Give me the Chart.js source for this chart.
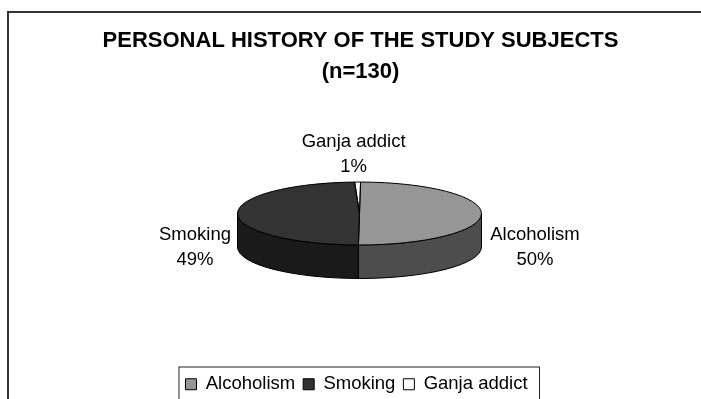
<!DOCTYPE html>
<html>
<head>
<meta charset="utf-8">
<style>
  html, body { margin: 0; padding: 0; background: #fff; overflow: hidden; }
  canvas { display: block; }
</style>
<script src="https://cdn.jsdelivr.net/npm/chart.js@4"></script>
</head>
<body>
<canvas id="pie-chart" width="701" height="399"></canvas>
<script>
const categories = ['Alcoholism', 'Smoking', 'Ganja addict'];
const subjects = [65, 64, 1];
const titleLines = ['PERSONAL HISTORY OF THE STUDY SUBJECTS', '(n=130)'];

const topColors = ['#969696', '#333333', '#ffffff'];
const sideColors = ['#4d4d4d', '#1a1a1a', '#ffffff'];

const fontName = '"Liberation Sans", Arial, sans-serif';
const labelSize = 18.5;
const squash = 0.258;
const depth = 33.5;
const pieCenter = { x: 359.5, y: 213.5 };
// label offsets from the rim of each slice
const labelOffsets = [[53.5, 21], [-42.5, 20.5], [-4, -40]];

const pie3d = {
    id: 'pie3d',
    afterLayout(chart) {
        // legend sits a little left of the title centre
        chart.legend.left -= 4;
        chart.legend.right -= 4;
        chart.legend.adjustHitBoxes();
    },
    beforeDatasetsDraw(chart) {
        const ctx = chart.ctx;
        const arcs = chart.getDatasetMeta(0).data;
        const r = arcs[0].outerRadius;
        const { x, y } = pieCenter;

        // side wall, only the part of each slice that faces the viewer
        arcs.forEach((arc, i) => {
            const from = Math.max(arc.startAngle, 0);
            const to = Math.min(arc.endAngle, Math.PI);
            if (from >= to) return;
            ctx.beginPath();
            ctx.ellipse(x, y, r, r * squash, 0, from, to);
            ctx.ellipse(x, y + depth, r, r * squash, 0, to, from, true);
            ctx.closePath();
            ctx.fillStyle = sideColors[i];
            ctx.fill();
            ctx.strokeStyle = '#000';
            ctx.lineWidth = 1;
            ctx.stroke();
        });

        ctx.save();
        ctx.translate(x, y);
        ctx.scale(1, squash);
        ctx.translate(-arcs[0].x, -arcs[0].y);
    },
    afterDatasetsDraw(chart) {
        const ctx = chart.ctx;
        ctx.restore();

        const arcs = chart.getDatasetMeta(0).data;
        const { x, y } = pieCenter;
        const total = subjects.reduce((a, b) => a + b, 0);

        arcs.forEach((arc, i) => {
            const r = arc.outerRadius;
            ctx.beginPath();
            ctx.moveTo(x, y);
            ctx.ellipse(x, y, r, r * squash, 0, arc.startAngle, arc.endAngle);
            ctx.closePath();
            ctx.strokeStyle = '#000';
            ctx.lineWidth = 1;
            ctx.stroke();

            const mid = (arc.startAngle + arc.endAngle) / 2;
            const lx = x + r * Math.cos(mid) + labelOffsets[i][0];
            const ly = y + r * squash * Math.sin(mid) + labelOffsets[i][1];
            ctx.fillStyle = '#000';
            ctx.font = labelSize + 'px ' + fontName;
            ctx.textAlign = 'center';
            ctx.textBaseline = 'middle';
            ctx.fillText(categories[i], lx, ly);
            ctx.fillText(Math.round(subjects[i] / total * 100) + '%', lx, ly + 25);
        });
    },
    afterDraw(chart) {
        const ctx = chart.ctx;
        const boxes = chart.legend.legendHitBoxes;
        const last = boxes[boxes.length - 1];
        const left = boxes[0].left - 6.5;
        const right = last.left + last.width + 12;

        ctx.save();
        ctx.strokeStyle = '#222';
        ctx.lineWidth = 1;
        ctx.strokeRect(left, 367, right - left, 50);
        ctx.strokeStyle = '#333';
        ctx.lineWidth = 2;
        ctx.strokeRect(8, 12, 720, 420);
        ctx.restore();
    }
};

new Chart(document.querySelector('#pie-chart').getContext('2d'), {
    type: 'pie',
    data: {
        labels: categories,
        datasets: [{
            data: subjects,
            backgroundColor: topColors,
            borderWidth: 0,
            radius: 122
        }]
    },
    options: {
        responsive: false,
        animation: false,
        rotation: 0.5,
        layout: { padding: { left: 20, bottom: -4.5 } },
        plugins: {
            tooltip: { enabled: false },
            title: {
                display: true,
                text: titleLines,
                color: '#000',
                font: { family: fontName, size: 22, weight: 'bold', lineHeight: 1.41 },
                padding: { top: 25, bottom: 10 }
            },
            legend: {
                position: 'bottom',
                labels: {
                    color: '#000',
                    font: { family: fontName, size: labelSize },
                    boxWidth: 11,
                    boxHeight: 11,
                    padding: 8,
                    generateLabels(chart) {
                        return Chart.overrides.pie.plugins.legend.labels.generateLabels(chart).map(item => ({
                            ...item,
                            strokeStyle: '#000',
                            lineWidth: 1
                        }));
                    }
                }
            }
        }
    },
    plugins: [pie3d]
});
</script>
</body>
</html>
